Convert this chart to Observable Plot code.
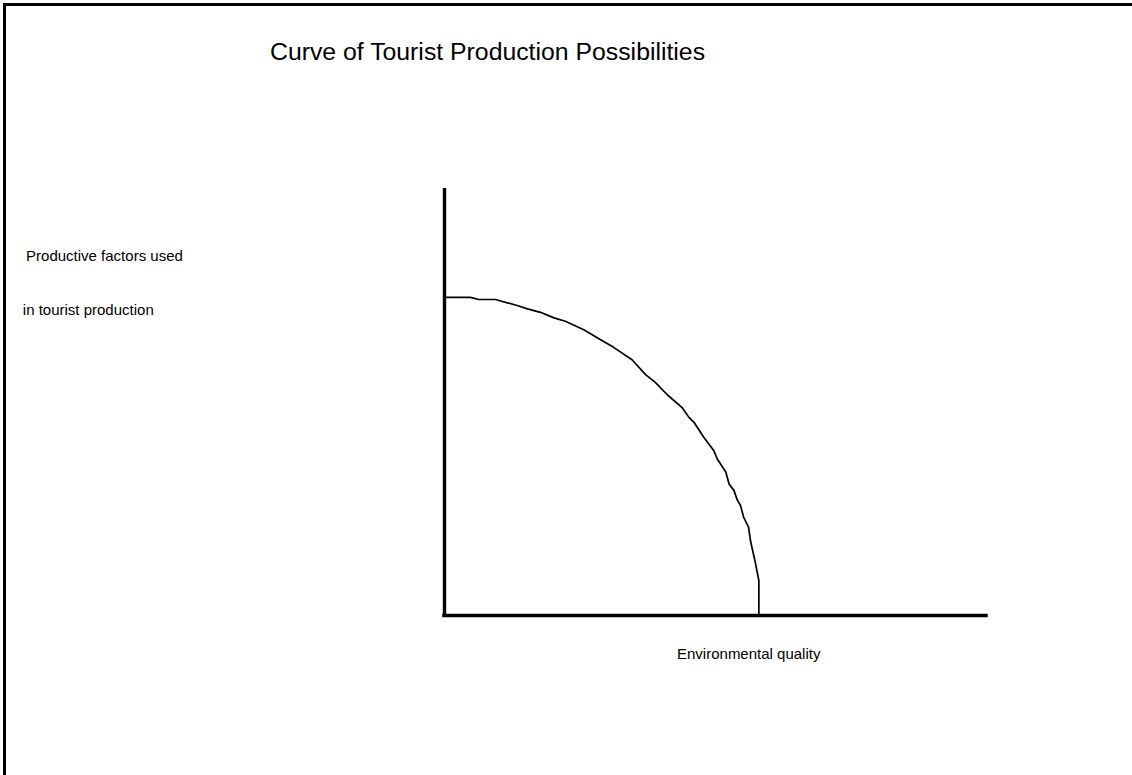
<!DOCTYPE html>
<html>
<head>
<meta charset="utf-8">
<script src="https://cdn.jsdelivr.net/npm/d3@7"></script>
<script src="https://cdn.jsdelivr.net/npm/@observablehq/plot@0.6"></script>
<style>
  html, body { margin: 0; padding: 0; background: #fff; }
  #wrap { position: relative; width: 1132px; height: 775px; overflow: hidden; }
  #frame { position: absolute; left: 3px; top: 3px; right: 0; bottom: 0;
           border-left: 3px solid #000; border-top: 3px solid #000; box-sizing: border-box; }
  #chart { position: absolute; left: 0; top: 0; }
  #chart svg { font-family: "Liberation Sans", Arial, sans-serif; }
</style>
</head>
<body>
<div id="wrap"><div id="frame"></div><div id="chart"></div></div>
<script>
// Production possibilities curve (x: environmental quality, y: productive factors)
const envQuality = [0.2, 4.8, 6.3, 9.4, 13.4, 15.3, 17.7, 20.2, 22.3, 25.7, 28.8, 31.2, 34.6, 37.1, 38.9, 41.1, 43.9, 45.1, 46.0, 47.8, 49.7, 50.3, 51.9, 52.5, 53.4, 54.0, 54.6, 55.2, 56.1, 56.5, 57.2, 58.0, 58.0];
const tourFactors = [74.5, 74.5, 74.0, 74.0, 72.6, 71.8, 71.0, 69.7, 68.9, 66.9, 64.6, 62.8, 59.9, 56.4, 54.6, 51.7, 48.6, 46.4, 45.3, 41.8, 38.6, 36.7, 33.6, 30.8, 29.3, 27.1, 25.8, 23.0, 20.7, 17.2, 13.3, 8.2, 0];

const titleText = ["Curve of Tourist Production Possibilities"];
const yLabelLines = ["Productive factors used", "in tourist production"];
const xLabelText = ["Environmental quality"];

const curve = envQuality.map((x, i) => ({x, y: tourFactors[i]}));

const chart = Plot.plot({
  width: 1132,
  height: 775,
  marginLeft: 444,
  marginRight: 146,
  marginTop: 188,
  marginBottom: 160,
  x: {domain: [0, 100], axis: null},
  y: {domain: [0, 100], axis: null},
  style: {background: "transparent", fontFamily: "'Liberation Sans', Arial, sans-serif"},
  marks: [
    Plot.line(curve, {x: "x", y: "y", stroke: "#000", strokeWidth: 1.7, curve: "linear"}),
    Plot.ruleX([0], {y1: 0, y2: 99.6, stroke: "#000", strokeWidth: 3.4, strokeLinecap: "square"}),
    Plot.ruleY([0], {x1: 0, x2: 100, stroke: "#000", strokeWidth: 3.5, strokeLinecap: "square"}),
    Plot.text(titleText, {x: -32.2, y: 130.2, text: d => d, textAnchor: "start", lineAnchor: "bottom", fontSize: 24.8, fill: "#000"}),
    Plot.text(yLabelLines, {x: [-77.2, -77.8], y: [83.0, 70.3], text: d => d, textAnchor: "start", lineAnchor: "bottom", fontSize: 15, fill: "#000"}),
    Plot.text(xLabelText, {x: 42.9, y: -10.3, text: d => d, textAnchor: "start", lineAnchor: "bottom", fontSize: 15, fill: "#000"})
  ]
});
document.getElementById("chart").append(chart);
</script>
</body>
</html>
